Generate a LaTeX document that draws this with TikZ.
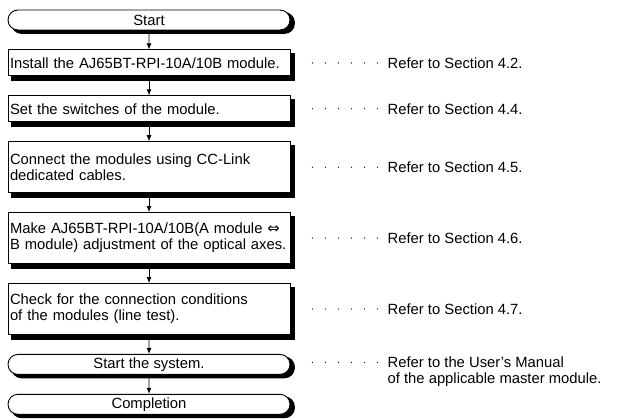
\documentclass[tikz,border=0pt]{standalone}
\usepackage{fontspec}
\setmainfont{Liberation Sans}
\newfontfamily\symfont{DejaVu Sans}
\usetikzlibrary{arrows.meta, positioning, shapes.misc, backgrounds, calc}
\tikzset{%
	every node/.style={font=\fontsize{14.8}{16}\selectfont},
	stepbox/.style={draw, rectangle, line width=0.9pt, fill=white, text width=278pt,%
		inner xsep=2pt, inner ysep=0pt, align=left, minimum height=26pt},
	twoline/.style={stepbox, minimum height=51pt},
	term/.style={draw, rounded rectangle, line width=0.9pt, fill=white, minimum width=282pt,%
		minimum height=20pt, inner sep=0pt},
	shad/.style={fill=black, draw=black, line width=0.9pt},
	flow/.style={-{Latex[length=6pt,width=5pt]}, line width=0.9pt},
	ref/.style={inner sep=0pt, align=left},
	lead/.style={line width=1.3pt, line cap=round, dash pattern=on 0pt off 13pt}
}
\begin{document}
\begin{tikzpicture}[x=1pt, y=-1pt, node distance=19pt]
	\useasboundingbox (0,0) rectangle (620,419);

	\node[term] (start) at (149,20) {Start};
	\node[stepbox, below=of start] (b1) {Install the AJ65BT-RPI-10A/10B module.};
	\node[stepbox, below=of b1] (b2) {Set the switches of the module.};
	\node[twoline, below=of b2] (b3) {Connect the modules using CC-Link\\dedicated cables.};
	\node[twoline, below=of b3] (b4) {Make AJ65BT-RPI-10A/10B(A module {\symfont ⇔}\\B module) adjustment of the optical axes.};
	\node[twoline, below=of b4] (b5) {Check for the connection conditions\\of the modules (line test).};
	\node[term, below=of b5] (b6) {Start the system.};
	\node[term, below=of b6] (end) {Completion};

	\node[ref, right=97pt of b1] (r1) {Refer to Section 4.2.};
	\node[ref, right=97pt of b2] (r2) {Refer to Section 4.4.};
	\node[ref, right=97pt of b3] (r3) {Refer to Section 4.5.};
	\node[ref, right=97pt of b4] (r4) {Refer to Section 4.6.};
	\node[ref, right=97pt of b5] (r5) {Refer to Section 4.7.};
	\node[ref, below right=-8pt and 97pt of b6.east] (r6) {Refer to the User's Manual\\of the applicable master module.};

	% shadows
	\begin{scope}[on background layer]
		\foreach \n in {b1, b2, b3, b4, b5}
			\draw[shad] ($(\n.north -| \n.west)+(4,4)$) rectangle ($(\n.south -| \n.east)+(4,4)$);
		\foreach \n in {start, b6, end}
			\draw[shad, rounded corners=10pt] ($(\n.north -| \n.west)+(4,3)$) rectangle ($(\n.south -| \n.east)+(4,3)$);
	\end{scope}

	\draw[flow] (start) -- (b1);
	\draw[flow] (b1) -- (b2);
	\draw[flow] (b2) -- (b3);
	\draw[flow] (b3) -- (b4);
	\draw[flow] (b4) -- (b5);
	\draw[flow] (b5) -- (b6);
	\draw[flow] (b6) -- (end);

	% leader dots
	\foreach \b/\r in {b1/r1, b2/r2, b3/r3, b4/r4, b5/r5}
		\draw[lead] ($(\b.east)+(22,0)$) -- ($(\r.west)+(-9.5,0)$);
	\draw[lead] ($(b6.east)+(22,-2)$) -- ($(r6.north west)+(-9.5,6)$);
\end{tikzpicture}
\end{document}
